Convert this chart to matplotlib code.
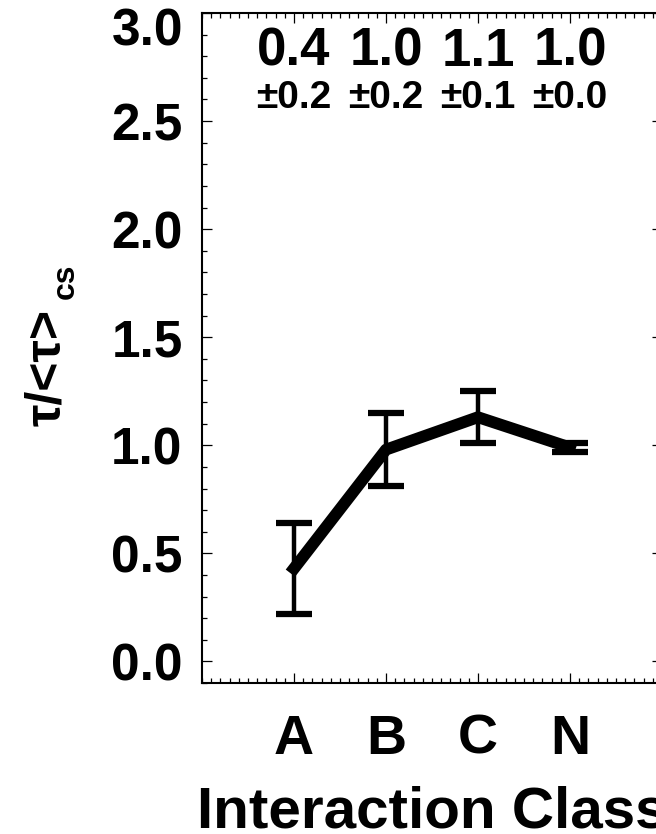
import numpy as np
import matplotlib.pyplot as plt
from matplotlib.ticker import MultipleLocator, FuncFormatter

# Mean lifetime ratio per interaction class, with its spread
classes = ['A', 'B', 'C', 'N']
ratio = [0.43, 0.98, 1.13, 0.99]
ratio_err = [0.21, 0.17, 0.12, 0.02]

plt.rcParams['font.family'] = ['Liberation Sans', 'DejaVu Sans']
plt.rcParams['font.weight'] = 'bold'

fig = plt.figure(figsize=(6.56, 8.34), dpi=100)
ax = fig.add_axes([0.308, 0.181, 0.701, 0.8034])

x = np.arange(1, len(classes) + 1)
ax.errorbar(x, ratio, yerr=ratio_err, color='black', lw=8.5,
            elinewidth=3.2, capsize=13, capthick=4.5)

ax.set_xlim(0, 5)
ax.set_ylim(-0.1, 3.0)
ax.set_xticks(x)
ax.set_xticklabels(classes)
ax.yaxis.set_major_locator(MultipleLocator(0.5))
ax.yaxis.set_minor_locator(MultipleLocator(0.1))
ax.xaxis.set_minor_locator(MultipleLocator(0.1))
# top label is drawn separately, pushed down so it stays inside the figure
ax.yaxis.set_major_formatter(FuncFormatter(lambda v, p: '' if v > 2.9 else f'{v:.1f}'))

ax.tick_params(which='both', direction='in', top=True, right=True, width=0.9)
ax.tick_params(which='major', length=7)
ax.tick_params(which='minor', length=3.5)
ax.tick_params(axis='y', which='major', labelsize=37, pad=14)
ax.tick_params(axis='x', which='major', labelsize=40, pad=22)
for sp in ax.spines.values():
    sp.set_linewidth(1.5)

ax.annotate('3.0', xy=(0, 3.0), xycoords=('axes fraction', 'data'),
            xytext=(-19, -19), textcoords='offset pixels',
            ha='right', va='center', fontsize=37, fontweight='bold')

# value and spread printed above each class
for xi, m, e in zip(x, ratio, ratio_err):
    ax.text(xi, 2.82, f'{m:.1f}', ha='center', va='center',
            fontsize=38, fontweight='bold')
    ax.text(xi, 2.605, f'\u00b1{e:.1f}', ha='center', va='center',
            fontsize=28, fontweight='bold')

ax.set_xlabel('Interaction Class', fontsize=42, fontweight='bold', labelpad=14)

# y label: tau ratio with an upright bold "cs" subscript
fig.text(0.0716, 0.5595, '\u03c4/<\u03c4>', rotation=90, ha='center', va='center',
         fontsize=36, fontweight='bold')
fig.text(0.1006, 0.6625, 'cs', rotation=90, ha='center', va='center',
         fontsize=23, fontweight='bold')

fig.savefig('out.png', dpi=100)
